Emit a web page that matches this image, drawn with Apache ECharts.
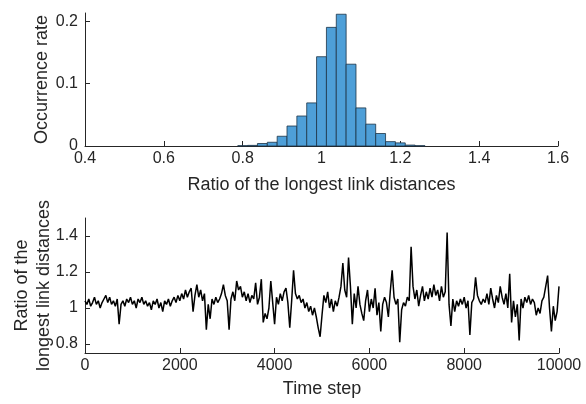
<!DOCTYPE html>
<html>
<head>
<meta charset="utf-8">
<script src="https://cdn.jsdelivr.net/npm/echarts@6/dist/echarts.min.js"></script>
<style>
  html, body { margin: 0; padding: 0; background: #fff; }
  #chart { width: 586px; height: 404px; }
</style>
</head>
<body>
<div id="chart"></div>
<script>
// histogram: bin centres and occurrence rate
const BIN_WIDTH = 0.025;
const binCenters = [0.8, 0.825, 0.85, 0.875, 0.9, 0.925, 0.95, 0.975, 1.0, 1.025, 1.05,
  1.075, 1.1, 1.125, 1.15, 1.175, 1.2, 1.225, 1.25];
const occurrence = [0.0005, 0.001, 0.004, 0.006, 0.0156, 0.032, 0.048, 0.069, 0.143, 0.19, 0.211,
  0.131, 0.061, 0.035, 0.02, 0.007, 0.005, 0.0015, 0.0005];

// time series, one reading every STEP time steps
const STEP = 40;
const ratioSeries = [
  // 0 - 1240
  1.04, 1.02, 1.05, 1.01, 1.03, 1.06, 1.02, 1.04, 1.00, 1.03, 1.05, 1.07, 1.03, 1.06, 1.02, 1.04,
  1.01, 1.05, 0.91, 1.02, 1.04, 1.01, 1.05, 1.03, 1.06, 1.02, 1.04, 1.00, 1.05, 1.03, 1.06, 1.02,
  // 1280 - 2520
  1.04, 1.01, 1.03, 0.99, 1.04, 1.02, 1.05, 1.00, 1.03, 0.98, 1.04, 1.02, 1.05, 1.01, 1.04, 1.06,
  1.03, 1.07, 1.04, 1.08, 1.05, 1.10, 1.06, 1.09, 1.11, 0.98, 1.07, 1.13, 1.06, 1.10, 1.04, 1.08,
  // 2560 - 3760
  0.88, 1.02, 0.94, 1.05, 1.02, 1.06, 1.03, 1.05, 1.08, 1.13, 1.07, 1.04, 0.88, 1.05, 1.09, 1.04,
  1.15, 1.10, 1.12, 1.06, 1.09, 1.04, 1.08, 1.03, 1.07, 1.05, 1.14, 1.02, 1.06, 1.16, 0.92,
  // 3800 - 5040
  0.97, 0.94, 1.00, 1.15, 1.03, 0.91, 1.06, 1.02, 1.08, 1.04, 1.09, 1.11, 1.03, 0.89, 1.04, 1.21,
  1.08, 1.05, 1.07, 1.03, 1.05, 1.00, 1.03, 0.98, 1.01, 0.96, 1.00, 0.95, 0.89, 0.84, 0.96, 1.07,
  // 5080 - 6280
  1.03, 1.09, 1.00, 1.05, 0.98, 1.04, 1.01, 1.06, 1.12, 1.25, 1.10, 1.06, 1.28, 1.12, 0.91, 1.08,
  1.00, 1.12, 1.02, 0.97, 0.93, 1.04, 1.10, 0.98, 1.05, 1.00, 1.11, 0.96, 1.03, 0.87, 1.02,
  // 6320 - 7560
  1.06, 1.03, 0.95, 1.09, 1.21, 1.06, 1.02, 1.05, 0.81, 0.99, 1.03, 1.01, 1.06, 1.04, 1.34, 1.12,
  1.05, 1.10, 1.01, 1.07, 1.12, 1.04, 1.09, 1.05, 1.11, 1.06, 1.13, 1.07, 1.10, 1.04, 1.12, 1.06,
  // 7600 - 8800
  1.09, 1.42, 1.02, 0.90, 1.05, 0.98, 1.04, 1.01, 1.05, 1.02, 1.06, 1.00, 1.04, 0.85, 1.03, 1.05,
  1.17, 1.07, 1.04, 1.02, 1.05, 1.03, 1.08, 1.02, 1.11, 1.05, 1.00, 1.07, 1.03, 1.12, 1.06,
  // 8840 - 10000
  1.02, 1.08, 1.00, 1.19, 0.92, 1.04, 0.95, 1.02, 0.82, 1.05, 1.00, 1.06, 1.03, 1.07, 1.02, 1.05,
  1.03, 0.96, 1.00, 0.97, 1.04, 1.06, 1.05, 1.18, 1.00, 0.87, 1.01, 0.93, 0.98, 1.12
];

const histTicksY = [0, 0.1, 0.2];
const seriesTicksY = [0.8, 1, 1.2, 1.4];

const FONT = '"Liberation Sans", Arial, Helvetica, sans-serif';
const AXIS_COLOR = '#262626';

const chart = echarts.init(document.getElementById('chart'), null, { renderer: 'canvas' });

const axisCommon = {
  axisLine: { show: true, lineStyle: { color: AXIS_COLOR, width: 1 } },
  axisTick: { show: true, inside: true, length: 5, lineStyle: { color: AXIS_COLOR } },
  axisLabel: { color: AXIS_COLOR, fontSize: 16, fontFamily: FONT, formatter: v => String(v) },
  splitLine: { show: false },
  nameMoveOverlap: false,
  nameTextStyle: { color: AXIS_COLOR, fontSize: 18, fontFamily: FONT }
};

const option = {
  animation: false,
  backgroundColor: '#fff',
  grid: [
    { left: 85, right: 28, top: 13, height: 133, containLabel: false, outerBoundsMode: 'none' },
    { left: 85, right: 27, top: 218, height: 135, containLabel: false, outerBoundsMode: 'none' }
  ],
  xAxis: [
    Object.assign({}, axisCommon, {
      gridIndex: 0, type: 'value', min: 0.4, max: 1.6, interval: 0.2,
      name: 'Ratio of the longest link distances', nameLocation: 'middle', nameGap: 30,
      axisLabel: Object.assign({}, axisCommon.axisLabel, { margin: 5 })
    }),
    Object.assign({}, axisCommon, {
      gridIndex: 1, type: 'value', min: 0, max: 10000, interval: 2000,
      name: 'Time step', nameLocation: 'middle', nameGap: 27,
      axisLabel: Object.assign({}, axisCommon.axisLabel, { margin: 5 })
    })
  ],
  yAxis: [
    Object.assign({}, axisCommon, {
      gridIndex: 0, type: 'value', min: 0, max: 0.213,
      name: 'Occurrence rate', nameLocation: 'middle', nameGap: 34,
      axisTick: Object.assign({}, axisCommon.axisTick, { customValues: histTicksY }),
      axisLabel: Object.assign({}, axisCommon.axisLabel, { customValues: histTicksY, margin: 7 })
    }),
    Object.assign({}, axisCommon, {
      gridIndex: 1, type: 'value', min: 0.75, max: 1.5,
      name: 'Ratio of the\nlongest link distances', nameLocation: 'middle', nameGap: 30,
      nameTextStyle: Object.assign({}, axisCommon.nameTextStyle, { lineHeight: 22 }),
      axisTick: Object.assign({}, axisCommon.axisTick, { customValues: seriesTicksY }),
      axisLabel: Object.assign({}, axisCommon.axisLabel, { customValues: seriesTicksY, margin: 7 })
    })
  ],
  series: [
    {
      type: 'custom',
      xAxisIndex: 0,
      yAxisIndex: 0,
      data: binCenters.map((c, i) => [c, occurrence[i]]),
      renderItem: function (params, api) {
        const c = api.value(0);
        const h = api.value(1);
        const p0 = api.coord([c - BIN_WIDTH / 2, h]);
        const p1 = api.coord([c + BIN_WIDTH / 2, 0]);
        return {
          type: 'rect',
          shape: { x: p0[0], y: p0[1], width: p1[0] - p0[0], height: p1[1] - p0[1] },
          style: { fill: '#4e9fd8', stroke: '#1d3346', lineWidth: 0.8 }
        };
      }
    },
    {
      type: 'line',
      xAxisIndex: 1,
      yAxisIndex: 1,
      showSymbol: false,
      symbol: 'none',
      lineStyle: { color: '#000', width: 1.5 },
      data: ratioSeries.map((v, i) => [i * STEP, v])
    }
  ]
};

chart.setOption(option);
</script>
</body>
</html>
